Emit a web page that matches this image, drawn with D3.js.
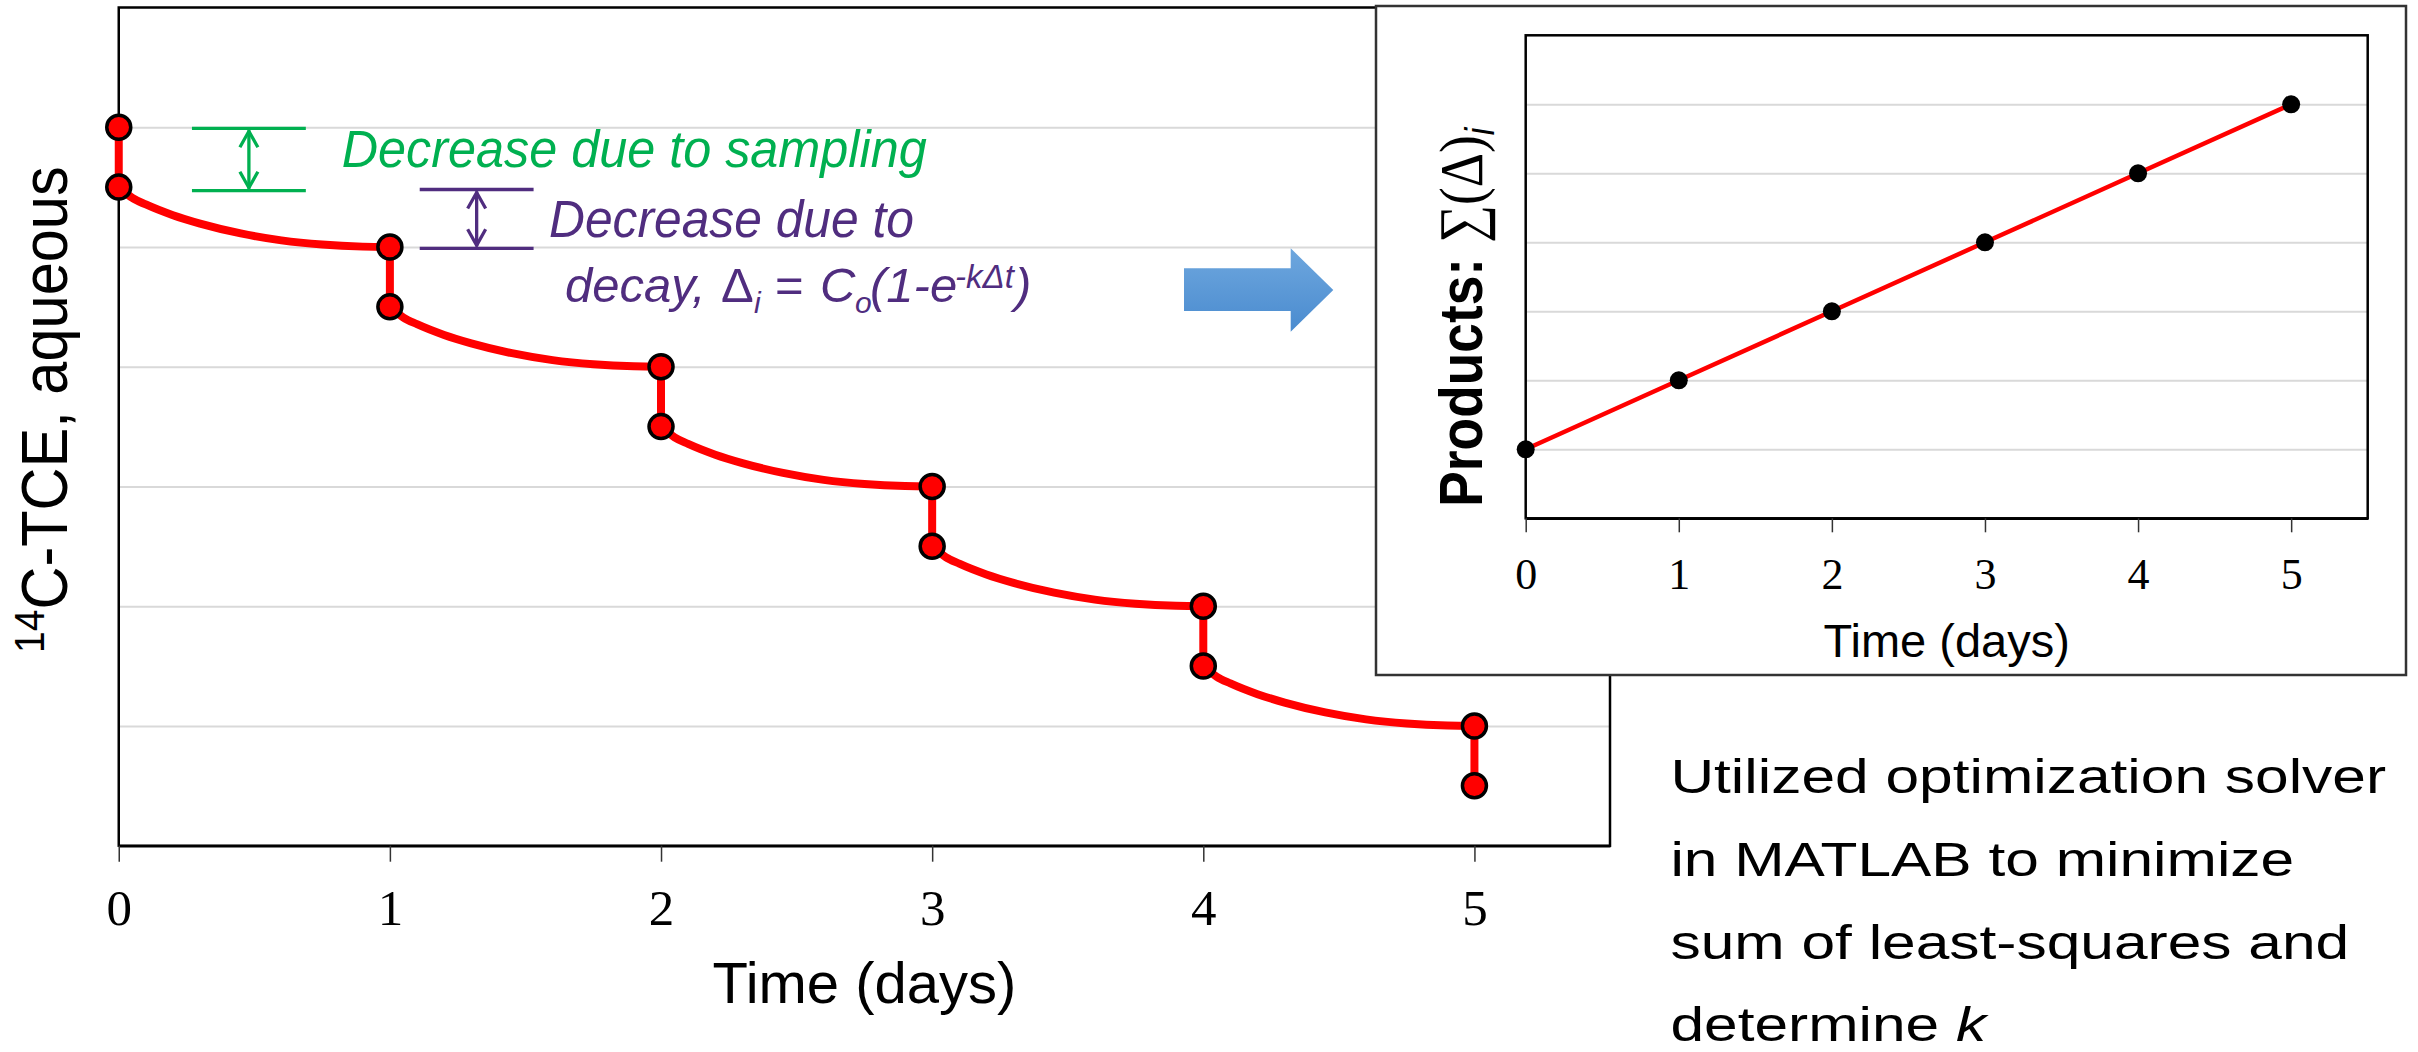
<!DOCTYPE html>
<html>
<head>
<meta charset="utf-8">
<script src="https://cdn.jsdelivr.net/npm/d3@7/dist/d3.min.js"></script>
<style>
  body { margin: 0; background: #fff; }
  svg { display: block; }
</style>
</head>
<body>
<script>
// values
var days = [0, 1, 2, 3, 4, 5];
var beforeSample = [6, 5, 4, 3, 2, 1];          // upper point on each sampling day
var afterSample = [5.5, 4.5, 3.5, 2.5, 1.5, 0.5]; // lower point, after the sample is taken
// decay between sampling days (offset in days from the sampling day)
var curveOffsets = [0, 0.05, 0.1, 0.2, 0.3, 0.45, 0.6, 0.75, 0.9, 1];
var decayCurves = [
    [5.5, 5.41, 5.355, 5.265, 5.195, 5.113, 5.055, 5.02, 5.003, 5.0],
    [4.5, 4.41, 4.355, 4.265, 4.195, 4.113, 4.055, 4.02, 4.003, 4.0],
    [3.5, 3.41, 3.355, 3.265, 3.195, 3.113, 3.055, 3.02, 3.003, 3.0],
    [2.5, 2.41, 2.355, 2.265, 2.195, 2.113, 2.055, 2.02, 2.003, 2.0],
    [1.5, 1.41, 1.355, 1.265, 1.195, 1.113, 1.055, 1.02, 1.003, 1.0]
];
var productDays = [0, 1, 2, 3, 4, 5];
var productSums = [1, 2, 3, 4, 5, 6];
var xTicks = [0, 1, 2, 3, 4, 5];
var gridValues = [1, 2, 3, 4, 5, 6];
var noteLines = [
    "Utilized optimization solver",
    "in MATLAB to minimize",
    "sum of least-squares and",
    "determine "
];

var svgWidth = 2418;
var svgHeight = 1052;

var svg = d3.select('body').append('svg')
    .attr('width', svgWidth)
    .attr('height', svgHeight);

// ---------- main chart ----------
var xScale = d3.scaleLinear().domain([0, 5.5]).range([118.75, 1610]);
var yScale = d3.scaleLinear().domain([0, 7]).range([845.7, 7.5]);

var mainGroup = svg.append('g');

// gridlines
mainGroup.append('g')
    .attr('transform', `translate(${xScale(0)},0)`)
    .call(d3.axisLeft(yScale).tickValues(gridValues).tickSize(-(xScale(5.5) - xScale(0))).tickFormat(''))
    .call(g => g.select('.domain').remove())
    .call(g => g.selectAll('line').attr('stroke', '#d9d9d9').attr('stroke-width', 2));

// frame
mainGroup.append('rect')
    .attr('x', xScale(0)).attr('y', yScale(7))
    .attr('width', xScale(5.5) - xScale(0)).attr('height', yScale(0) - yScale(7))
    .attr('fill', 'none').attr('stroke', '#000').attr('stroke-width', 2.5);

// x axis
var xAxisMain = mainGroup.append('g')
    .attr('transform', `translate(0,${yScale(0)})`)
    .call(d3.axisBottom(xScale).tickValues(xTicks).tickFormat(d3.format('d')).tickSize(16).tickSizeOuter(0));
xAxisMain.select('.domain').attr('stroke', '#000').attr('stroke-width', 2.5);
xAxisMain.selectAll('.tick line').attr('stroke', '#333').attr('stroke-width', 1.5);
xAxisMain.selectAll('.tick text')
    .attr('y', 79).attr('dy', null)
    .attr('fill', '#000')
    .style('font-family', '"Liberation Serif", "Times New Roman", serif')
    .style('font-size', '51px');

// axis titles
mainGroup.append('text')
    .attr('x', (xScale(0) + xScale(5.5)) / 2).attr('y', 1003)
    .attr('text-anchor', 'middle')
    .style('font-family', '"Liberation Sans", Arial, sans-serif')
    .style('font-size', '58px')
    .text('Time (days)');

var yTitle = mainGroup.append('text')
    .attr('transform', 'translate(67,653) rotate(-90) scale(0.93,1)')
    .style('font-family', '"Liberation Sans", Arial, sans-serif')
    .style('font-size', '64px');
yTitle.append('tspan').attr('dy', -23).style('font-size', '42px').text('14');
yTitle.append('tspan').attr('dy', 23).text('C-TCE, aqueous');

// decay curves
var decayLine = d3.line()
    .x(d => xScale(d[0]))
    .y(d => yScale(d[1]))
    .curve(d3.curveMonotoneX);

mainGroup.append('g').selectAll('path')
    .data(decayCurves)
    .enter()
    .append('path')
    .attr('d', (c, i) => decayLine(curveOffsets.map((o, j) => [days[i] + o, c[j]])))
    .attr('fill', 'none')
    .attr('stroke', '#ff0000')
    .attr('stroke-width', 8)
    .attr('stroke-linecap', 'round');

// sampling drops
mainGroup.append('g').selectAll('line')
    .data(days)
    .enter()
    .append('line')
    .attr('x1', (d) => xScale(d)).attr('x2', (d) => xScale(d))
    .attr('y1', (d, i) => yScale(beforeSample[i]))
    .attr('y2', (d, i) => yScale(afterSample[i]))
    .attr('stroke', '#ff0000')
    .attr('stroke-width', 8);

// markers
var markerData = days.map((d, i) => [d, beforeSample[i]]).concat(days.map((d, i) => [d, afterSample[i]]));
mainGroup.append('g').selectAll('circle')
    .data(markerData)
    .enter()
    .append('circle')
    .attr('cx', d => xScale(d[0]))
    .attr('cy', d => yScale(d[1]))
    .attr('r', 12)
    .attr('fill', '#ff0000')
    .attr('stroke', '#000')
    .attr('stroke-width', 3.5);

// ---------- annotations ----------
function bracket(g, x0, x1, yTop, yBot, color) {
    var xm = (x0 + x1) / 2;
    g.append('line').attr('x1', x0).attr('x2', x1).attr('y1', yTop).attr('y2', yTop);
    g.append('line').attr('x1', x0).attr('x2', x1).attr('y1', yBot).attr('y2', yBot);
    g.append('line').attr('x1', xm).attr('x2', xm).attr('y1', yTop + 2).attr('y2', yBot - 2);
    g.append('polyline').attr('points', `${xm - 9},${yTop + 19} ${xm},${yTop + 3} ${xm + 9},${yTop + 19}`);
    g.append('polyline').attr('points', `${xm - 9},${yBot - 19} ${xm},${yBot - 3} ${xm + 9},${yBot - 19}`);
    g.selectAll('line, polyline').attr('stroke', color).attr('stroke-width', 3.3).attr('fill', 'none');
}

var green = '#00b050';
var purple = '#502d7f';

bracket(svg.append('g'), xScale(0.27), xScale(0.69), 128.3, 190.7, green);
bracket(svg.append('g'), xScale(1.11), xScale(1.53), 189.5, 248.3, purple);

svg.append('text')
    .attr('x', 341.7).attr('y', 166.7)
    .attr('fill', green)
    .attr('textLength', 585).attr('lengthAdjust', 'spacingAndGlyphs')
    .style('font-family', '"Liberation Sans", Arial, sans-serif')
    .style('font-style', 'italic')
    .style('font-size', '51px')
    .text('Decrease due to sampling');

svg.append('text')
    .attr('x', 549).attr('y', 236.7)
    .attr('fill', purple)
    .attr('textLength', 365).attr('lengthAdjust', 'spacingAndGlyphs')
    .style('font-family', '"Liberation Sans", Arial, sans-serif')
    .style('font-style', 'italic')
    .style('font-size', '51px')
    .text('Decrease due to');

var formula = svg.append('text')
    .attr('y', 301.7)
    .attr('fill', purple)
    .style('font-family', '"Liberation Sans", Arial, sans-serif')
    .style('font-style', 'italic')
    .style('font-size', '49px');
formula.append('tspan').attr('x', 565).text('decay, ');
formula.append('tspan').attr('x', 721).style('font-style', 'normal').text('Δ');
formula.append('tspan').attr('x', 754).attr('y', 313).style('font-size', '30px').text('i');
formula.append('tspan').attr('x', 775).attr('y', 301.7).style('font-style', 'normal').text('=');
formula.append('tspan').attr('x', 820).text('C');
formula.append('tspan').attr('x', 855).attr('y', 313).style('font-size', '30px').text('o');
formula.append('tspan').attr('x', 870).attr('y', 301.7).text('(1-e');
formula.append('tspan').attr('x', 955).attr('y', 288).style('font-size', '33px').text('-kΔt');
formula.append('tspan').attr('x', 1015).attr('y', 301.7).text(')');

// ---------- blue arrow ----------
var defs = svg.append('defs');
var grad = defs.append('linearGradient').attr('id', 'arrowFill')
    .attr('x1', 0).attr('y1', 0).attr('x2', 0).attr('y2', 1);
grad.append('stop').attr('offset', '0%').attr('stop-color', '#6ea7de');
grad.append('stop').attr('offset', '100%').attr('stop-color', '#4a8bcf');

svg.append('polygon')
    .attr('points', '1184,268.3 1290.7,268.3 1290.7,248.3 1333.3,290 1290.7,331.7 1290.7,311 1184,311')
    .attr('fill', 'url(#arrowFill)');

// ---------- inset chart ----------
var inset = svg.append('g');
inset.append('rect')
    .attr('x', 1376).attr('y', 6).attr('width', 1030).attr('height', 669)
    .attr('fill', '#fff').attr('stroke', '#333').attr('stroke-width', 2.5);

var xInset = d3.scaleLinear().domain([0, 5.5]).range([1525.7, 2367.7]);
var yInset = d3.scaleLinear().domain([0, 7]).range([518.3, 35.3]);

inset.append('g')
    .attr('transform', `translate(${xInset(0)},0)`)
    .call(d3.axisLeft(yInset).tickValues(gridValues).tickSize(-(xInset(5.5) - xInset(0))).tickFormat(''))
    .call(g => g.select('.domain').remove())
    .call(g => g.selectAll('line').attr('stroke', '#d9d9d9').attr('stroke-width', 2));

inset.append('rect')
    .attr('x', xInset(0)).attr('y', yInset(7))
    .attr('width', xInset(5.5) - xInset(0)).attr('height', yInset(0) - yInset(7))
    .attr('fill', 'none').attr('stroke', '#000').attr('stroke-width', 2.5);

var xAxisInset = inset.append('g')
    .attr('transform', `translate(0,${yInset(0)})`)
    .call(d3.axisBottom(xInset).tickValues(xTicks).tickFormat(d3.format('d')).tickSize(14).tickSizeOuter(0));
xAxisInset.select('.domain').attr('stroke', '#000').attr('stroke-width', 2.5);
xAxisInset.selectAll('.tick line').attr('stroke', '#333').attr('stroke-width', 1.5);
xAxisInset.selectAll('.tick text')
    .attr('y', 71).attr('dy', null)
    .attr('fill', '#000')
    .style('font-family', '"Liberation Serif", "Times New Roman", serif')
    .style('font-size', '44px');

inset.append('text')
    .attr('x', (xInset(0) + xInset(5.5)) / 2).attr('y', 656.7)
    .attr('text-anchor', 'middle')
    .style('font-family', '"Liberation Sans", Arial, sans-serif')
    .style('font-size', '47px')
    .text('Time (days)');

var insetTitle = inset.append('text')
    .attr('transform', 'translate(1482,506.7) rotate(-90) scale(0.86,1)')
    .style('font-family', '"Liberation Sans", Arial, sans-serif')
    .style('font-size', '62px');
insetTitle.append('tspan').style('font-weight', 'bold').text('Products: ');
insetTitle.append('tspan').style('font-family', '"Liberation Serif", "Times New Roman", serif').text('∑(Δ)');
insetTitle.append('tspan').attr('dy', 12).style('font-style', 'italic').style('font-size', '40px').text('i');

var productLine = d3.line()
    .x((d, i) => xInset(productDays[i]))
    .y(d => yInset(d));

inset.append('path')
    .attr('d', productLine(productSums))
    .attr('fill', 'none')
    .attr('stroke', '#ff0000')
    .attr('stroke-width', 4.5);

inset.append('g').selectAll('circle')
    .data(productSums)
    .enter()
    .append('circle')
    .attr('cx', (d, i) => xInset(productDays[i]))
    .attr('cy', d => yInset(d))
    .attr('r', 9)
    .attr('fill', '#000');

// ---------- side note ----------
var note = svg.append('g')
    .attr('transform', 'translate(1670.4,0) scale(1.26,1)')
    .style('font-family', '"Liberation Sans", Arial, sans-serif')
    .style('font-size', '48px');
var noteBaselines = [793, 876, 959, 1041];
noteLines.forEach((t, i) => {
    var line = note.append('text').attr('x', 0).attr('y', noteBaselines[i]).text(t);
    if (i === noteLines.length - 1) {
        line.append('tspan').style('font-style', 'italic').text('k');
    }
});
</script>
</body>
</html>
